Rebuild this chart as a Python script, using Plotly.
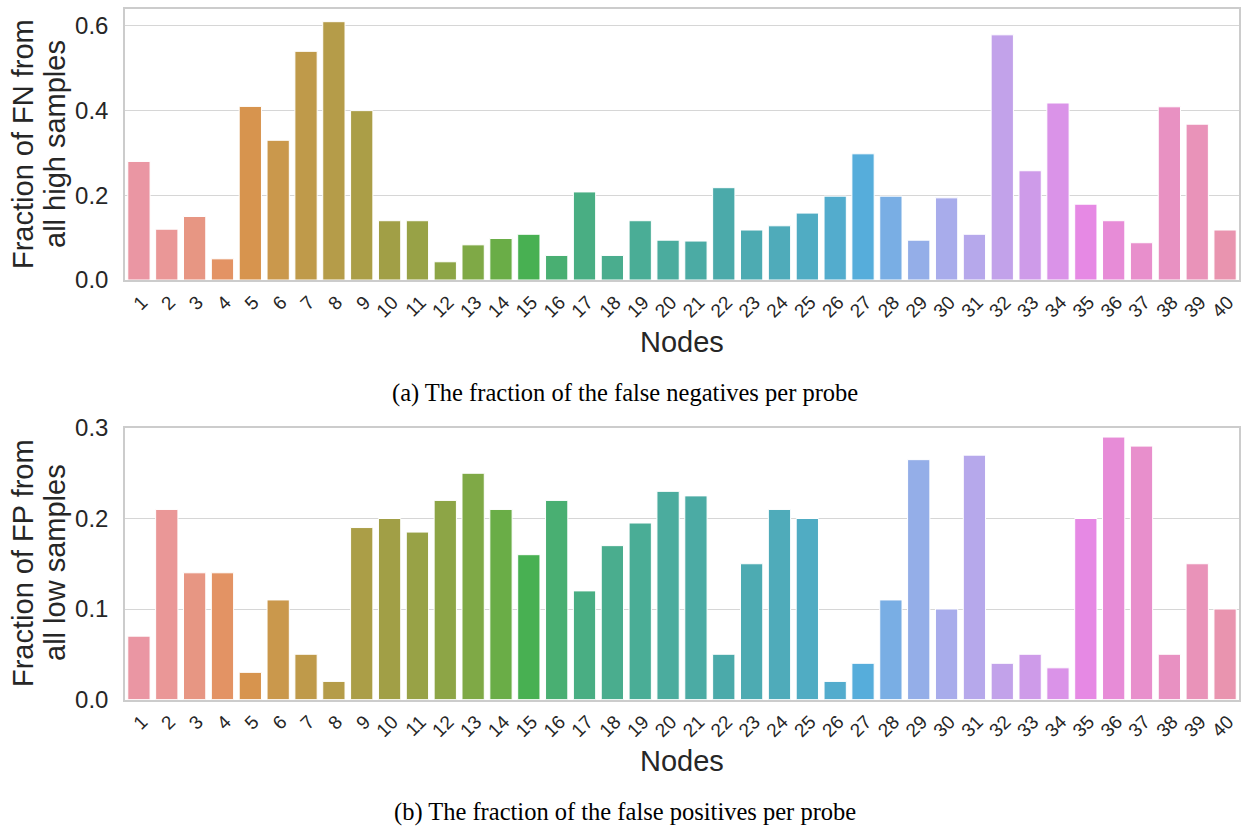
import math
import colorsys
import plotly.graph_objects as go

nodes = [str(i) for i in range(1, 41)]
fn_fraction = [0.28, 0.12, 0.15, 0.05, 0.41, 0.33, 0.54, 0.61, 0.40, 0.14,
               0.14, 0.043, 0.083, 0.098, 0.108, 0.058, 0.208, 0.058, 0.14, 0.094,
               0.092, 0.218, 0.118, 0.128, 0.158, 0.198, 0.298, 0.198, 0.094, 0.194,
               0.108, 0.579, 0.258, 0.418, 0.179, 0.14, 0.088, 0.409, 0.368, 0.118]
fp_fraction = [0.07, 0.21, 0.14, 0.14, 0.03, 0.11, 0.05, 0.02, 0.19, 0.20,
               0.185, 0.22, 0.25, 0.21, 0.16, 0.22, 0.12, 0.17, 0.195, 0.23,
               0.225, 0.05, 0.15, 0.21, 0.20, 0.02, 0.04, 0.11, 0.265, 0.10,
               0.27, 0.04, 0.05, 0.035, 0.20, 0.29, 0.28, 0.05, 0.15, 0.10]
y_ticks_top = [0.0, 0.2, 0.4, 0.6]
y_ticks_bottom = [0.0, 0.1, 0.2, 0.3]

# ---- seaborn-like "husl" palette, desaturated by 0.75 like barplot ----
M = [[3.2406, -1.5372, -0.4986], [-0.9689, 1.8758, 0.0415], [0.0557, -0.2040, 1.0570]]
REF_U, REF_V, LAB_E, LAB_K = 0.19784, 0.46834, 0.008856, 903.3


def max_chroma(L, H):
    hrad = math.radians(H)
    sinH, cosH = math.sin(hrad), math.cos(hrad)
    sub1 = (L + 16) ** 3 / 1560896.0
    sub2 = sub1 if sub1 > LAB_E else L / LAB_K
    result = float("inf")
    for m1, m2, m3 in M:
        top = (0.99915 * m1 + 1.05122 * m2 + 1.14460 * m3) * sub2
        rbottom = 0.86330 * m3 - 0.17266 * m2
        lbottom = 0.12949 * m3 - 0.38848 * m1
        bottom = (rbottom * sinH + lbottom * cosH) * sub2
        for t in (0.0, 1.0):
            C = L * (top - 1.05122 * t) / (bottom + 0.17266 * sinH * t)
            if 0 < C < result:
                result = C
    return result


def husl_to_rgb(H, S, L):
    C = max_chroma(L, H) / 100.0 * S
    U = C * math.cos(math.radians(H))
    V = C * math.sin(math.radians(H))
    t = (L + 16) / 116.0
    varY = t ** 3 if t ** 3 > LAB_E else (116 * t - 16) / LAB_K
    varU = U / (13 * L) + REF_U
    varV = V / (13 * L) + REF_V
    Y = varY
    X = -(9 * Y * varU) / ((varU - 4) * varV - varU * varV)
    Z = (9 * Y - 15 * varV * Y - varV * X) / (3 * varV)
    out = []
    for row in M:
        c = row[0] * X + row[1] * Y + row[2] * Z
        c = 12.92 * c if c <= 0.0031308 else 1.055 * c ** (1 / 2.4) - 0.055
        out.append(min(max(c, 0.0), 1.0))
    return out


def palette(n, h=0.01, s=0.9, l=0.70, sat=0.75):
    cols = []
    for i in range(n):
        hue = ((i / n) + h) % 1 * 359
        r, g, b = husl_to_rgb(hue, s * 99, l * 99)
        hh, ll, ss = colorsys.rgb_to_hls(r, g, b)
        r, g, b = colorsys.hls_to_rgb(hh, ll, ss * sat)
        cols.append("#%02x%02x%02x" % (round(r * 255), round(g * 255), round(b * 255)))
    return cols


colors = palette(len(nodes))

W, H = 1245, 829


def px_x(x):
    return x / W


def px_y(y):
    return 1 - y / H


fig = go.Figure()
fig.add_trace(go.Bar(x=nodes, y=fn_fraction, marker=dict(color=colors, line=dict(color="white", width=1)),
                     xaxis="x", yaxis="y", showlegend=False))
fig.add_trace(go.Bar(x=nodes, y=fp_fraction, marker=dict(color=colors, line=dict(color="white", width=1)),
                     xaxis="x2", yaxis="y2", showlegend=False))

xd = [px_x(125), px_x(1239)]
yd_top = [px_y(280), px_y(9)]
yd_bot = [px_y(699.5), px_y(428)]

sans = "Liberation Sans, Arial, sans-serif"
serif = "Liberation Serif, Times New Roman, serif"
tick_font = dict(family=sans, size=24, color="#262626")
xtick_font = dict(family=sans, size=19, color="#262626")
title_font = dict(family=sans, size=29, color="#262626")
cap_font = dict(family=serif, size=24.5, color="black")

common_x = dict(domain=xd, type="category", range=[-0.5, 39.5], showgrid=False, showline=True,
                mirror=True, linecolor="#cccccc", linewidth=1.5, ticks="", tickangle=-45,
                tickfont=xtick_font, ticklabelshift=3, ticklabelstandoff=2, automargin=False)
common_y = dict(showgrid=True, gridcolor="#d6d6d6", gridwidth=1.3, showline=True, mirror=True,
                linecolor="#cccccc", linewidth=1.5, ticks="", tickfont=tick_font, zeroline=False,
                ticklabelstandoff=10, automargin=False, tickformat=".1f")


def ann(text, x, y, font, angle=0):
    return dict(text=text, xref="paper", yref="paper", x=px_x(x), y=px_y(y), textangle=angle,
                showarrow=False, font=font, xanchor="center", yanchor="middle")


fig.update_layout(
    width=W, height=H, margin=dict(l=0, r=0, t=0, b=0),
    plot_bgcolor="white", paper_bgcolor="white", bargap=0.2,
    xaxis=dict(anchor="y", **common_x),
    xaxis2=dict(anchor="y2", **common_x),
    yaxis=dict(domain=yd_top, anchor="x", range=[0, 0.64], tickvals=y_ticks_top, **common_y),
    yaxis2=dict(domain=yd_bot, anchor="x2", range=[0, 0.3], tickvals=y_ticks_bottom, **common_y),
    annotations=[
        ann("Fraction of FN from", 23, 144, title_font, -90),
        ann("all high samples", 55, 144, title_font, -90),
        ann("Fraction of FP from", 23, 563, title_font, -90),
        ann("all low samples", 55, 563, title_font, -90),
        ann("Nodes", 682, 342, title_font),
        ann("Nodes", 682, 761, title_font),
        ann("(a) The fraction of the false negatives per probe", 625, 393, cap_font),
        ann("(b) The fraction of the false positives per probe", 625, 812, cap_font),
    ],
)

# remove the default 8px page margin so the figure sits at the window's top-left corner
fig.write_html("out.html", config={"displayModeBar": False},
               post_script="document.body.style.margin='0px';")
